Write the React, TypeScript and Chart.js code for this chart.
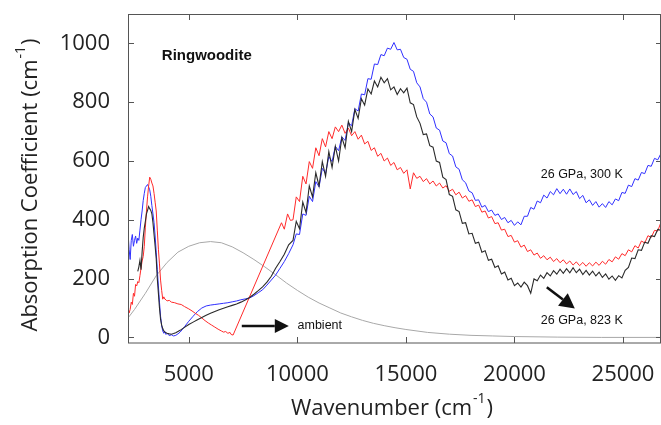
import { useEffect, useRef } from 'react';
import { Chart, registerables } from 'chart.js';

Chart.register(...registerables);

// ---------- axis ranges & ticks ----------
const xRange = [2200, 26750];
const yRange = [-19, 1100];
const xTickValues = [5000, 10000, 15000, 20000, 25000];
const yTickValues = [0, 200, 400, 600, 800, 1000];

// ---------- shared high-wavenumber grid (cm-1) ----------
const wnHigh = [
  9800, 9950, 10100, 10250, 10400, 10550, 10700, 10850, 11000, 11150,
  11300, 11450, 11600, 11750, 11900, 12050, 12200, 12350, 12500, 12650,
  12800, 12950, 13100, 13250, 13400, 13550, 13700, 13850, 14000, 14150,
  14300, 14450, 14600, 14750, 14900, 15050, 15200, 15350, 15500, 15650,
  15800, 15950, 16100, 16250, 16400, 16550, 16700, 16850, 17000, 17150,
  17300, 17450, 17600, 17750, 17900, 18050, 18200, 18350, 18500, 18650,
  18800, 18950, 19100, 19250, 19400, 19550, 19700, 19850, 20000, 20150,
  20300, 20450, 20600, 20750, 20900, 21050, 21200, 21350, 21500, 21650,
  21800, 21950, 22100, 22250, 22400, 22550, 22700, 22850, 23000, 23150,
  23300, 23450, 23600, 23750, 23900, 24050, 24200, 24350, 24500, 24650,
  24800, 24950, 25100, 25250, 25400, 25550, 25700, 25850, 26000, 26150,
  26300, 26450, 26600, 26750,
];

// ---------- 26 GPa, 300 K (blue) ----------
const blueWnLow = [
  2200, 2250, 2300, 2350, 2400, 2450, 2500, 2550, 2600, 2650,
  2700, 2750, 2800, 2850, 2900, 2950, 3000, 3050, 3100, 3150,
  3200, 3250, 3300, 3350, 3400, 3450, 3500, 3550, 3600, 3650,
  3700, 3750, 3800, 3850, 3900, 3950, 4000, 4100, 4200, 4300,
  4400, 4500, 4600, 4800, 5000, 5200, 5400, 5600, 5800, 6000,
  6200, 6400, 6600, 6800, 7000, 7200, 7400, 7600, 7800, 8000,
  8200, 8400, 8600, 8800, 9000, 9200, 9400, 9600,
];
const blueAbsLow = [
  360, 300, 265, 330, 350, 310, 330, 345, 320, 338,
  330, 365, 400, 430, 465, 490, 510, 515, 520, 512,
  502, 480, 448, 420, 390, 345, 290, 230, 175, 120,
  72, 40, 22, 14, 20, 10, 14, 6, 9, 5,
  7, 12, 18, 36, 55, 72, 88, 100, 107, 110,
  112, 114, 116, 118, 121, 124, 128, 131, 134, 142,
  152, 162, 178, 195, 212, 235, 258, 285,
];
const blueAbsHigh = [
  315, 352, 350, 420, 415, 480, 462, 530, 512, 575,
  558, 615, 598, 650, 635, 682, 670, 730, 720, 778,
  770, 828, 825, 880, 878, 930, 928, 962, 958, 984,
  980, 1003, 978, 980, 952, 946, 912, 905, 866, 852,
  812, 800, 760, 750, 712, 705, 668, 662, 625, 617,
  580, 572, 536, 526, 498, 492, 466, 468, 443, 449,
  428, 433, 415, 420, 401, 408, 390, 398, 381, 393,
  383, 412, 412, 442, 436, 464, 458, 484, 474, 496,
  485, 506, 489, 504, 487, 505, 486, 496, 472, 483,
  458, 468, 449, 462, 443, 455, 442, 462, 451, 471,
  465, 493, 490, 518, 513, 540, 535, 561, 557, 585,
  582, 609, 604, 626,
];

// ---------- 26 GPa, 823 K (black) ----------
const blackWnLow = [
  2650, 2700, 2750, 2800, 2850, 2900, 2950, 3000, 3050, 3100,
  3150, 3200, 3250, 3300, 3350, 3400, 3450, 3500, 3550, 3600,
  3650, 3700, 3750, 3800, 3850, 3900, 4000, 4100, 4200, 4300,
  4400, 4600, 4800, 5000, 5200, 5400, 5600, 5800, 6000, 6200,
  6400, 6600, 6800, 7000, 7200, 7400, 7600, 7800, 8000, 8200,
  8400, 8600, 8800, 9000, 9200, 9400, 9600,
];
const blackAbsLow = [
  225, 240, 262, 230, 290, 340, 372, 395, 420, 432,
  445, 438, 432, 420, 390, 350, 310, 268, 200, 150,
  100, 62, 42, 30, 22, 18, 14, 12, 11, 13,
  16, 24, 34, 44, 52, 60, 68, 75, 82, 88,
  94, 99, 104, 109, 114, 120, 127, 136, 147, 159,
  172, 188, 208, 235, 258, 283, 315,
];
const blackAbsHigh = [
  330, 395, 370, 460, 425, 515, 478, 560, 515, 598,
  548, 632, 578, 650, 600, 680, 645, 735, 700, 775,
  745, 812, 790, 845, 828, 872, 852, 885, 866, 880,
  842, 852, 826, 846, 832, 848, 798, 792, 750, 728,
  690, 692, 652, 647, 600, 595, 545, 537, 486, 480,
  434, 428, 388, 390, 352, 354, 320, 324, 290, 295,
  262, 266, 238, 244, 216, 222, 195, 201, 176, 185,
  171, 188, 176, 150, 199, 193, 212, 201, 220, 209,
  227, 215, 232, 218, 234, 220, 237, 220, 232, 214,
  228, 212, 225, 209, 222, 204, 216, 198, 209, 194,
  210, 202, 228, 238, 270, 268, 298, 296, 324, 320,
  346, 343, 367, 364,
];

// ---------- ambient (red) ----------
const redWnLow = [
  2200, 2250, 2300, 2350, 2400, 2450, 2500, 2550, 2600, 2650,
  2700, 2750, 2800, 2850, 2900, 2950, 3000, 3050, 3100, 3150,
  3200, 3250, 3300, 3350, 3400, 3450, 3500, 3550, 3600, 3650,
  3700, 3750, 3800, 3850, 3900, 3950, 4000, 4100, 4200, 4350,
  4500, 4650, 4800, 5000, 5150, 5300, 5450, 5600, 5750, 5900,
  6050, 6200, 6350, 6500, 6600, 6700, 6800, 6900, 6950, 7040,
  9270, 9400, 9550, 9680,
];
const redAbsLow = [
  100, 83, 95, 120, 112, 150, 140, 180, 175, 190,
  186, 210, 235, 260, 275, 310, 375, 430, 478, 515,
  545, 538, 525, 515, 490, 460, 430, 365, 300, 250,
  195, 160, 130, 138, 130, 128, 124, 126, 120, 118,
  114, 112, 105, 97, 90, 82, 75, 66, 57, 49,
  42, 35, 28, 22, 18, 20, 14, 17, 10, 8,
  390, 368, 420, 398,
];
const redAbsHigh = [
  400, 478, 462, 548, 522, 598, 575, 645, 618, 676,
  648, 700, 676, 716, 700, 722, 694, 712, 686, 700,
  674, 688, 658, 667, 636, 645, 616, 626, 600, 610,
  585, 595, 570, 578, 558, 570, 505, 560, 541, 548,
  530, 540, 522, 532, 515, 525, 508, 516, 497, 504,
  485, 494, 474, 482, 463, 468, 445, 450, 426, 430,
  406, 411, 387, 390, 365, 368, 343, 347, 324, 329,
  307, 314, 292, 298, 280, 287, 269, 278, 264, 273,
  258, 268, 254, 264, 250, 260, 246, 257, 244, 255,
  242, 254, 243, 256, 245, 259, 249, 265, 257, 274,
  266, 285, 278, 298, 291, 312, 304, 328, 321, 346,
  340, 364, 362, 392,
];

// ---------- smooth reference curve (gray) ----------
const grayWn = [
  2200, 2500, 3000, 3500, 4000, 4500, 5000, 5500, 6000, 6500,
  7000, 7500, 8000, 8500, 9000, 9500, 10000, 10500, 11000, 11500,
  12000, 12500, 13000, 13500, 14000, 14500, 15000, 16000, 17000, 18000,
  19000, 20000, 22000, 24000, 26750,
];
const grayAbs = [
  66, 95, 150, 210, 255, 290, 310, 322, 326, 322,
  308, 288, 265, 240, 213, 185, 160, 137, 117, 100,
  83, 70, 58, 48, 40, 33, 27, 17, 11, 7,
  5, 3, 1, 0, 0,
];

// ---------- annotation texts ----------
const sampleLabel = 'Ringwoodite';
const label300K = '26 GPa, 300 K';
const label823K = '26 GPa, 823 K';
const labelAmbient = 'ambient';
const yTitleMain = 'Absorption Coefficient (cm';
const xTitleMain = 'Wavenumber (cm';
const unitSup = '-1';

const toPoints = (xs: number[], ys: number[]) => xs.map((x, i) => ({ x, y: ys[i] }));

const TICK_FONT = '"Open Sans", "Liberation Sans", sans-serif';
const ANN_FONT = '"Liberation Sans", Arial, sans-serif';

function drawTitle(ctx: CanvasRenderingContext2D, main: string, sup: string, cx: number, baseline: number) {
  ctx.font = `22px ${TICK_FONT}`;
  const w1 = ctx.measureText(main).width;
  const w3 = ctx.measureText(')').width;
  ctx.font = `14px ${TICK_FONT}`;
  const w2 = ctx.measureText(sup).width;
  const total = w1 + w2 + w3 + 2;
  let x0 = cx - total / 2;
  ctx.textAlign = 'left';
  ctx.textBaseline = 'alphabetic';
  ctx.font = `22px ${TICK_FONT}`;
  ctx.fillText(main, x0, baseline);
  x0 += w1 + 1;
  ctx.font = `14px ${TICK_FONT}`;
  ctx.fillText(sup, x0, baseline - 12);
  x0 += w2 + 1;
  ctx.font = `22px ${TICK_FONT}`;
  ctx.fillText(')', x0, baseline);
}

function drawArrow(ctx: CanvasRenderingContext2D, x1: number, y1: number, x2: number, y2: number, head: number, half: number) {
  const ang = Math.atan2(y2 - y1, x2 - x1);
  const bx = x2 - head * Math.cos(ang);
  const by = y2 - head * Math.sin(ang);
  ctx.beginPath();
  ctx.moveTo(x1, y1);
  ctx.lineTo(bx, by);
  ctx.stroke();
  ctx.beginPath();
  ctx.moveTo(x2, y2);
  ctx.lineTo(bx + half * Math.sin(ang), by - half * Math.cos(ang));
  ctx.lineTo(bx - half * Math.sin(ang), by + half * Math.cos(ang));
  ctx.closePath();
  ctx.fill();
}

const framePlugin = {
  id: 'framePlugin',
  afterDraw(chart: any) {
    const { ctx, chartArea, scales } = chart;
    const { left, right, top, bottom } = chartArea;
    const xs = scales.x;
    const ys = scales.y;
    ctx.save();
    // frame
    ctx.strokeStyle = '#555';
    ctx.lineWidth = 1;
    ctx.strokeRect(left + 0.5, top + 0.5, right - left - 1, bottom - top - 0.5);
    // inward ticks
    ctx.beginPath();
    xTickValues.forEach((v) => {
      const p = Math.round(xs.getPixelForValue(v)) + 0.5;
      ctx.moveTo(p, bottom);
      ctx.lineTo(p, bottom - 6);
      ctx.moveTo(p, top);
      ctx.lineTo(p, top + 6);
    });
    yTickValues.forEach((v) => {
      const p = Math.round(ys.getPixelForValue(v)) + 0.5;
      ctx.moveTo(left, p);
      ctx.lineTo(left + 6, p);
      ctx.moveTo(right, p);
      ctx.lineTo(right - 5, p);
    });
    ctx.stroke();

    // axis titles
    ctx.fillStyle = '#222';
    drawTitle(ctx, xTitleMain, unitSup, 392, 415);
    ctx.save();
    ctx.translate(36.5, 185);
    ctx.rotate(-Math.PI / 2);
    drawTitle(ctx, yTitleMain, unitSup, 0, 0);
    ctx.restore();

    // annotations (positions in data units)
    const px = (v: number) => xs.getPixelForValue(v);
    const py = (v: number) => ys.getPixelForValue(v);
    ctx.fillStyle = '#111';
    ctx.textBaseline = 'middle';
    ctx.textAlign = 'left';
    ctx.font = `bold 15px ${ANN_FONT}`;
    ctx.fillText(sampleLabel, px(3757), py(957));
    ctx.font = `12.5px ${ANN_FONT}`;
    ctx.textAlign = 'center';
    ctx.fillText(label300K, px(23100), py(554));
    ctx.fillText(label823K, px(23100), py(57));
    ctx.textAlign = 'left';
    ctx.fillText(labelAmbient, px(10009), py(39));

    ctx.strokeStyle = '#111';
    ctx.fillStyle = '#111';
    ctx.lineWidth = 2.5;
    drawArrow(ctx, px(7441), py(39), px(9606), py(39), 14, 7);
    drawArrow(ctx, px(21490), py(171), px(22780), py(98), 15, 8);
    ctx.restore();
  },
};

const zeroPadding = (s: any) => {
  s.paddingTop = 0;
  s.paddingBottom = 0;
  s.paddingLeft = 0;
  s.paddingRight = 0;
};

export default function App() {
  const canvasRef = useRef<HTMLCanvasElement | null>(null);

  useEffect(() => {
    const canvas = canvasRef.current;
    if (!canvas) return;
    const line = (label: string, data: any[], color: string, width: number) => ({
      label,
      data,
      borderColor: color,
      backgroundColor: color,
      borderWidth: width,
      pointRadius: 0,
      tension: 0,
      fill: false,
    });
    const chart = new Chart(canvas, {
      type: 'line',
      data: {
        datasets: [
          line('26 GPa, 823 K', toPoints([...blackWnLow, ...wnHigh], [...blackAbsLow, ...blackAbsHigh]), '#2a2a2a', 1.1),
          line('ambient', toPoints([...redWnLow, ...wnHigh], [...redAbsLow, ...redAbsHigh]), '#ff2a2a', 1),
          line('26 GPa, 300 K', toPoints([...blueWnLow, ...wnHigh], [...blueAbsLow, ...blueAbsHigh]), '#2f2fff', 1),
          line('reference', toPoints(grayWn, grayAbs), '#a8a8a8', 1),
        ],
      },
      options: {
        animation: false,
        responsive: false,
        maintainAspectRatio: false,
        devicePixelRatio: 1,
        layout: { padding: { top: 14, left: 0, right: 0, bottom: 0 } },
        plugins: { legend: { display: false }, tooltip: { enabled: false } },
        scales: {
          x: {
            type: 'linear',
            min: xRange[0],
            max: xRange[1],
            grid: { display: false, drawTicks: false, tickLength: 0 },
            border: { display: false },
            afterBuildTicks: (s: any) => { s.ticks = xTickValues.map((v) => ({ value: v })); },
            afterFit: (s: any) => { s.height = 82; zeroPadding(s); },
            ticks: {
              autoSkip: false,
              maxRotation: 0,
              padding: 19,
              color: '#222',
              font: { family: TICK_FONT, size: 22 },
              callback: (v: any) => String(v),
            },
          },
          y: {
            type: 'linear',
            min: yRange[0],
            max: yRange[1],
            grid: { display: false, drawTicks: false, tickLength: 0 },
            border: { display: false },
            afterBuildTicks: (s: any) => { s.ticks = yTickValues.map((v) => ({ value: v })); },
            afterFit: (s: any) => { s.width = 128; zeroPadding(s); },
            ticks: {
              autoSkip: false,
              padding: 18,
              color: '#222',
              font: { family: TICK_FONT, size: 22 },
              callback: (v: any) => String(v),
            },
          },
        },
      },
      plugins: [framePlugin],
    });
    return () => chart.destroy();
  }, []);

  return (
    <div style={{ position: 'fixed', left: 0, top: 0, width: 661, height: 425, background: '#fff' }}>
      <canvas ref={canvasRef} width={661} height={425} style={{ display: 'block' }} />
    </div>
  );
}
